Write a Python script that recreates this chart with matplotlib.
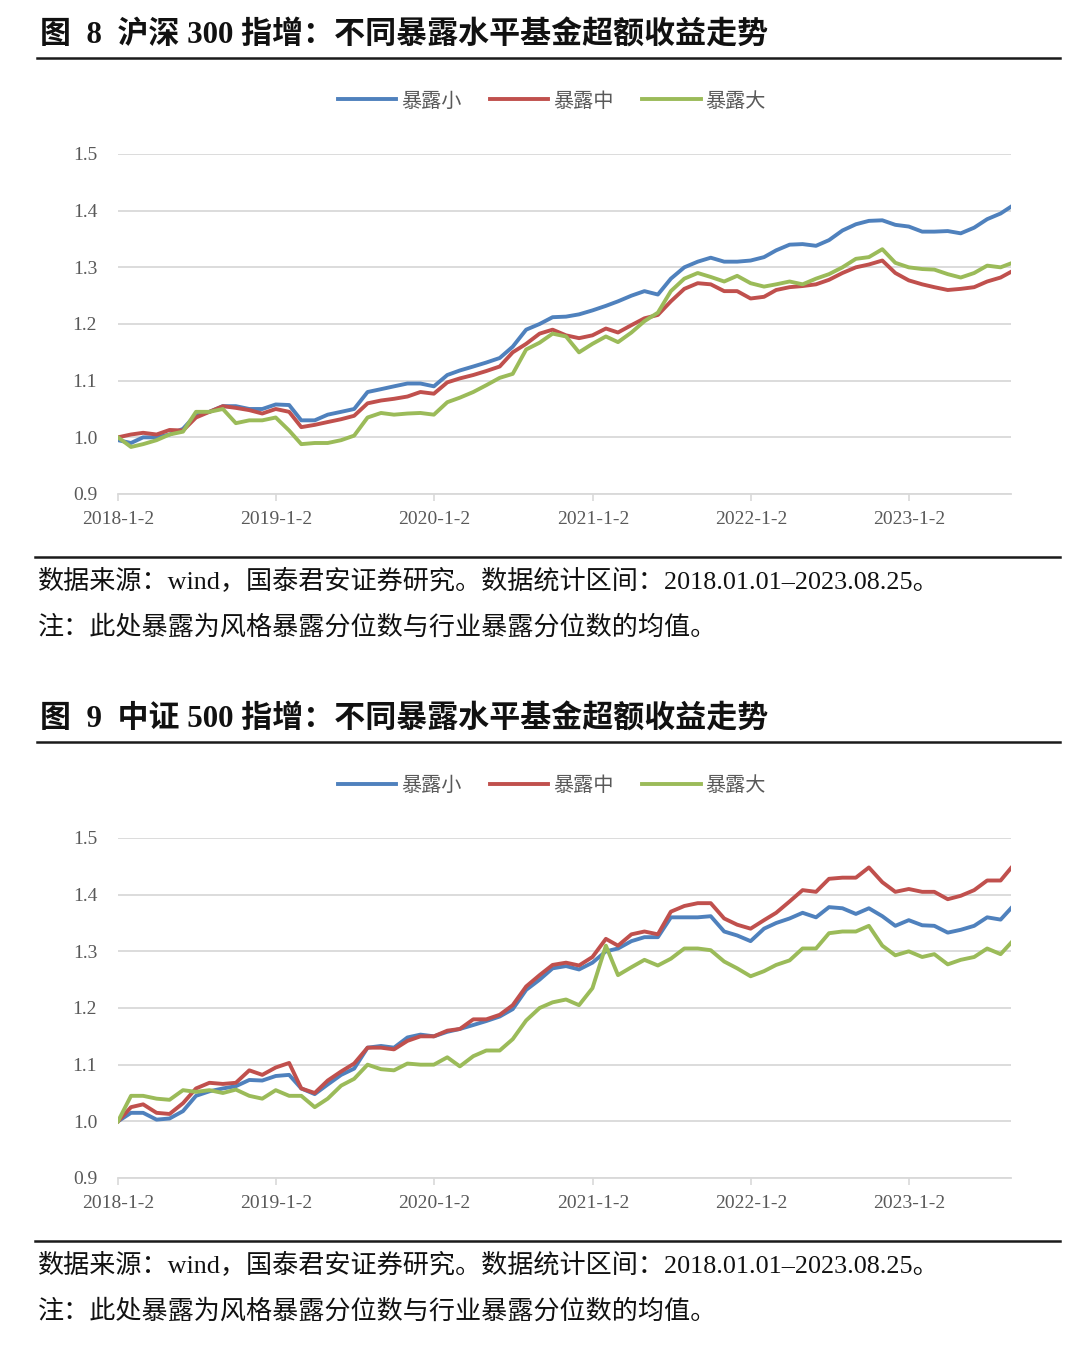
import numpy as np
import pandas as pd
import matplotlib
matplotlib.use("Agg")
import matplotlib.pyplot as plt
from matplotlib.lines import Line2D

plt.rcParams['font.family'] = ['Liberation Serif', 'Noto Sans CJK SC']

# monthly samples, last point = 2023-08-25
dates = pd.to_datetime(['2018-01-02'] + [d.strftime('%Y-%m-%d') for d in pd.date_range('2018-02-01', '2023-08-01', freq='MS')] + ['2023-08-25'])

series_names = ['暴露小', '暴露中', '暴露大']
series_colors = ['#4F81BD', '#C0504D', '#9BBB59']

hs300_small = [0.995, 0.99, 1.0, 1.0, 1.005, 1.015, 1.04, 1.045, 1.055, 1.055, 1.05, 1.05,
               1.058, 1.057, 1.03, 1.03, 1.04, 1.045, 1.05, 1.08, 1.085, 1.09, 1.095, 1.095,
               1.09, 1.11, 1.118, 1.125, 1.132, 1.14, 1.16, 1.19, 1.2, 1.212, 1.213, 1.217,
               1.224, 1.232, 1.24, 1.25, 1.258, 1.252, 1.28, 1.3, 1.31, 1.317, 1.31, 1.31,
               1.312, 1.318, 1.33, 1.34, 1.341, 1.338, 1.348, 1.365, 1.376, 1.382, 1.383, 1.375,
               1.372, 1.363, 1.363, 1.364, 1.36, 1.37, 1.385, 1.395, 1.407]
hs300_mid = [1.0, 1.005, 1.008, 1.005, 1.013, 1.012, 1.035, 1.045, 1.055, 1.052, 1.048, 1.042,
             1.05, 1.045, 1.018, 1.022, 1.027, 1.032, 1.038, 1.06, 1.065, 1.068, 1.072, 1.08,
             1.077, 1.097, 1.104, 1.11, 1.117, 1.125, 1.15, 1.165, 1.183, 1.19, 1.18, 1.175,
             1.18, 1.192, 1.185, 1.198, 1.21, 1.216, 1.24, 1.262, 1.272, 1.27, 1.258, 1.258,
             1.245, 1.248, 1.26, 1.265, 1.267, 1.27, 1.278, 1.29, 1.3, 1.305, 1.312, 1.29,
             1.277, 1.27, 1.265, 1.26, 1.262, 1.265, 1.275, 1.282, 1.292]
hs300_large = [1.0, 0.983, 0.988, 0.995, 1.005, 1.01, 1.045, 1.045, 1.05, 1.025, 1.03, 1.03,
               1.035, 1.012, 0.988, 0.99, 0.99, 0.995, 1.003, 1.035, 1.043, 1.04, 1.042, 1.043,
               1.04, 1.062, 1.07, 1.08, 1.092, 1.105, 1.112, 1.155, 1.167, 1.183, 1.178, 1.15,
               1.165, 1.178, 1.168, 1.185, 1.205, 1.22, 1.258, 1.28, 1.29, 1.283, 1.275, 1.285,
               1.272, 1.266, 1.27, 1.275, 1.27, 1.28, 1.288, 1.3, 1.315, 1.318, 1.332, 1.308,
               1.3, 1.297, 1.296, 1.288, 1.282, 1.29, 1.303, 1.3, 1.307]

zz500_small = [1.0, 1.015, 1.015, 1.003, 1.005, 1.018, 1.045, 1.053, 1.058, 1.062, 1.073, 1.072,
               1.08, 1.082, 1.058, 1.048, 1.065, 1.082, 1.093, 1.13, 1.133, 1.13, 1.148, 1.153,
               1.15, 1.158, 1.163, 1.17, 1.177, 1.185, 1.198, 1.232, 1.25, 1.27, 1.274, 1.268,
               1.28, 1.3, 1.305, 1.318, 1.325, 1.325, 1.36, 1.36, 1.36, 1.362, 1.335, 1.328,
               1.318, 1.34, 1.35, 1.358, 1.368, 1.36, 1.378, 1.376, 1.366, 1.376, 1.362, 1.345,
               1.355, 1.346, 1.345, 1.333, 1.338, 1.345, 1.36, 1.356, 1.376]
zz500_mid = [1.0, 1.025, 1.03, 1.015, 1.013, 1.032, 1.058, 1.068, 1.066, 1.068, 1.09, 1.082,
             1.095, 1.103, 1.058, 1.05, 1.072, 1.088, 1.102, 1.13, 1.13, 1.127, 1.142, 1.15,
             1.15, 1.16, 1.163, 1.18, 1.18, 1.188, 1.205, 1.238, 1.258, 1.276, 1.28, 1.275,
             1.29, 1.322, 1.31, 1.33, 1.335, 1.33, 1.37, 1.38, 1.385, 1.385, 1.358, 1.347,
             1.34, 1.355, 1.368, 1.388, 1.408, 1.405, 1.428, 1.43, 1.43, 1.448, 1.422, 1.405,
             1.41, 1.405, 1.405, 1.392, 1.398, 1.408, 1.425, 1.425, 1.447]
zz500_large = [1.0, 1.045, 1.045, 1.04, 1.038, 1.055, 1.052, 1.055, 1.05, 1.056, 1.045, 1.04,
               1.055, 1.045, 1.045, 1.025, 1.04, 1.063, 1.075, 1.1, 1.092, 1.09, 1.102, 1.1,
               1.1, 1.113, 1.097, 1.115, 1.125, 1.125, 1.145, 1.178, 1.2, 1.21, 1.215, 1.205,
               1.235, 1.31, 1.258, 1.272, 1.285, 1.275, 1.287, 1.305, 1.305, 1.302, 1.282, 1.27,
               1.256, 1.265, 1.276, 1.284, 1.305, 1.305, 1.332, 1.335, 1.335, 1.345, 1.31, 1.293,
               1.3, 1.29, 1.295, 1.277, 1.285, 1.29, 1.305, 1.295, 1.315]

tick_dates = pd.to_datetime(['2018-01-02', '2019-01-02', '2020-01-02', '2021-01-02', '2022-01-02', '2023-01-02'])
tick_labels = ['2018-1-2', '2019-1-2', '2020-1-2', '2021-1-2', '2022-1-2', '2023-1-2']
y_ticks = [0.9, 1.0, 1.1, 1.2, 1.3, 1.4, 1.5]

titles = ['图  8  沪深 300 指增：不同暴露水平基金超额收益走势',
          '图  9  中证 500 指增：不同暴露水平基金超额收益走势']
source_note = '数据来源：wind，国泰君安证券研究。数据统计区间：2018.01.01–2023.08.25。'
extra_note = '注：此处暴露为风格暴露分位数与行业暴露分位数的均值。'

W, H = 1080, 1355
fig = plt.figure(figsize=(W / 100, H / 100), dpi=100)


def fy(y):
    return 1 - y / H


def rule(y, x0, x1, lw=1.8):
    fig.add_artist(Line2D([x0 / W, x1 / W], [fy(y), fy(y)], transform=fig.transFigure,
                          color='#1a1a1a', lw=lw))


def panel(top, title, data):
    # top = pixel y of title line
    fig.text(40 / W, fy(top + 1), title, fontsize=22.3, fontweight='bold', va='center', color='#111111')
    rule(top + 23, 37, 1060)

    ax = fig.add_axes([118 / W, fy(top + 459), (1011 - 118) / W, 340 / H])
    handles = []
    for vals, name, c in zip(data, series_names, series_colors):
        h, = ax.plot(dates, vals, color=c, lw=2.8, label=name, solid_joinstyle='round')
        handles.append(h)

    ax.set_xlim(pd.Timestamp('2018-01-02'), pd.Timestamp('2023-08-25'))
    ax.set_ylim(0.9, 1.5)
    ax.set_yticks(y_ticks)
    ax.set_yticklabels([f'{v:.1f}' for v in y_ticks])
    ax.set_xticks(tick_dates)
    ax.set_xticklabels(tick_labels)
    ax.grid(axis='y', color='#D9D9D9', lw=1.3)
    ax.set_axisbelow(True)
    for s in ['top', 'right', 'left']:
        ax.spines[s].set_visible(False)
    ax.spines['bottom'].set_color('#D9D9D9')
    ax.spines['bottom'].set_linewidth(1.3)
    ax.tick_params(axis='y', length=0, pad=15, labelsize=14, labelcolor='#595959')
    ax.tick_params(axis='x', length=5, width=1.2, color='#D9D9D9', pad=7,
                   labelsize=14, labelcolor='#595959')

    fig.legend(handles=handles, loc='center', bbox_to_anchor=(552 / W, fy(top + 67)),
               ncol=3, frameon=False, handlelength=2.9, columnspacing=1.4, handletextpad=0.25,
               prop={'size': 14.5}, labelcolor='#595959')

    rule(top + 522, 35, 1060)
    fig.text(38 / W, fy(top + 547), source_note, fontsize=18.8, va='center', color='#111111')
    fig.text(38 / W, fy(top + 592), extra_note, fontsize=18.8, va='center', color='#111111')


panel(35, titles[0], [hs300_small, hs300_mid, hs300_large])
panel(719, titles[1], [zz500_small, zz500_mid, zz500_large])

fig.savefig('out.png', dpi=100, facecolor='white')
